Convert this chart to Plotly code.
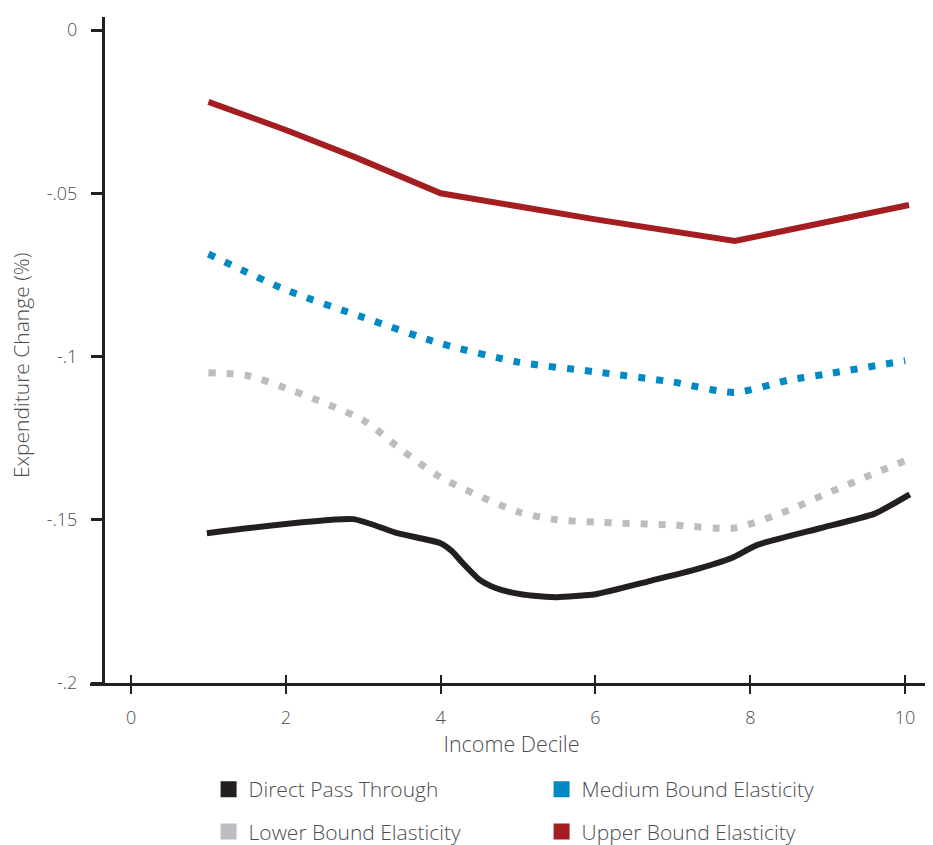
import plotly.graph_objects as go

# Data
x_direct = [0.98, 2.87, 3.44, 3.99, 4.15, 4.29, 4.51, 4.70, 4.94, 5.20, 5.50, 6.00, 6.71, 7.25,
            7.76, 8.09, 8.90, 9.60, 10.06]
y_direct = [-0.1541, -0.1498, -0.1541, -0.1571, -0.1597, -0.1634, -0.1685, -0.1708, -0.1724,
            -0.1733, -0.1737, -0.1728, -0.1687, -0.1655, -0.1617, -0.1577, -0.1526, -0.1482,
            -0.1422]

x_medium = [1.0, 2.0, 3.0, 4.0, 5.0, 6.0, 7.0, 7.8, 8.5, 9.0, 10.0]
y_medium = [-0.0686, -0.0796, -0.0880, -0.0960, -0.1017, -0.1047, -0.1078, -0.1110, -0.1072,
            -0.1053, -0.1013]

x_lower = [1.0, 1.5, 2.0, 3.0, 3.5, 4.0, 5.0, 5.5, 6.0, 7.0, 7.8, 8.5, 9.0, 10.05]
y_lower = [-0.1050, -0.1058, -0.1097, -0.1195, -0.1287, -0.1370, -0.1476, -0.1500, -0.1507,
           -0.1516, -0.1525, -0.1470, -0.1418, -0.1314]

x_upper = [1.0, 2.0, 2.9, 4.0, 6.0, 7.8, 10.05]
y_upper = [-0.0220, -0.0306, -0.0390, -0.0500, -0.0580, -0.0646, -0.0536]

x_ticks = [0, 2, 4, 6, 8, 10]
y_ticks = [0, -0.05, -0.1, -0.15, -0.2]
y_ticklabels = ["0", "-.05", "-.1", "-.15", "-.2"]

names = ["Direct Pass Through", "Medium Bound Elasticity", "Lower Bound Elasticity", "Upper Bound Elasticity"]
colors = ["#231f20", "#0089c4", "#bcbdc0", "#a31d21"]

FONT = "Open Sans"
TXT = "#4d4d4f"

fig = go.Figure()

fig.add_trace(go.Scatter(x=x_upper, y=y_upper, mode="lines", showlegend=False,
                         line=dict(color=colors[3], width=6)))
fig.add_trace(go.Scatter(x=x_medium, y=y_medium, mode="lines", showlegend=False,
                         line=dict(color=colors[1], width=7, dash="7px,11px", shape="spline", smoothing=0.7)))
fig.add_trace(go.Scatter(x=x_lower, y=y_lower, mode="lines", showlegend=False,
                         line=dict(color=colors[2], width=7, dash="7px,11px", shape="spline", smoothing=0.7)))
fig.add_trace(go.Scatter(x=x_direct, y=y_direct, mode="lines", showlegend=False,
                         line=dict(color=colors[0], width=6, shape="spline", smoothing=0.5)))

# legend entries (square swatches), two rows
legend_ids = ["legend", "legend", "legend2", "legend2"]
for nm, c, lg in zip(names, colors, legend_ids):
    fig.add_trace(go.Scatter(x=[None], y=[None], mode="markers", name=nm, legend=lg,
                             marker=dict(symbol="square", size=17, color=c)))

# overlay axis for the upper half of crossing x ticks
fig.add_trace(go.Scatter(x=[None], y=[None], xaxis="x2", showlegend=False))

tickfont = dict(size=18, color=TXT, family=FONT, weight=300)
legfont = dict(size=21, color=TXT, weight=300)
fig.update_layout(
    width=933, height=845,
    margin=dict(l=82, r=8, t=9, b=170),
    plot_bgcolor="white", paper_bgcolor="white",
    font=dict(family=FONT, color=TXT, size=18, weight=300),
    xaxis=dict(range=[-0.53, 10.36], tickvals=x_ticks, ticks="outside", ticklen=8, tickwidth=2,
               tickcolor="#231f20", showline=True, linecolor="#231f20", linewidth=3,
               showgrid=False, zeroline=False, tickfont=tickfont, ticklabelstandoff=8,
               title=dict(text="Income Decile", font=dict(size=21.5, color=TXT, weight=300), standoff=9)),
    xaxis2=dict(range=[-0.53, 10.36], tickvals=x_ticks, ticks="inside", ticklen=8, tickwidth=2,
                tickcolor="#231f20", overlaying="x", anchor="y", side="bottom",
                showticklabels=False, showgrid=False, zeroline=False, showline=False),
    yaxis=dict(range=[-0.2, 0.004], tickvals=y_ticks, ticktext=y_ticklabels, ticks="outside",
               ticklen=11, tickwidth=3, tickcolor="#231f20", showline=True, linecolor="#231f20",
               linewidth=3, showgrid=False, zeroline=False, anchor="free", position=13/843,
               tickfont=tickfont, ticklabelstandoff=10),
    legend=dict(orientation="h", xref="container", yref="container", x=0.215, y=0.075,
                xanchor="left", yanchor="middle", entrywidth=288, entrywidthmode="pixels",
                font=legfont),
    legend2=dict(orientation="h", xref="container", yref="container", x=0.215, y=0.025,
                 xanchor="left", yanchor="middle", entrywidth=288, entrywidthmode="pixels",
                 font=legfont),
    annotations=[dict(text="Expenditure Change (%)", textangle=-90, xref="paper", yref="paper",
                      x=-(82 - 13) / 843, y=(683 - 365) / 666, xanchor="center", yanchor="middle",
                      showarrow=False, font=dict(size=21, color=TXT, weight=300))],
)

fig.write_html("out.html")
